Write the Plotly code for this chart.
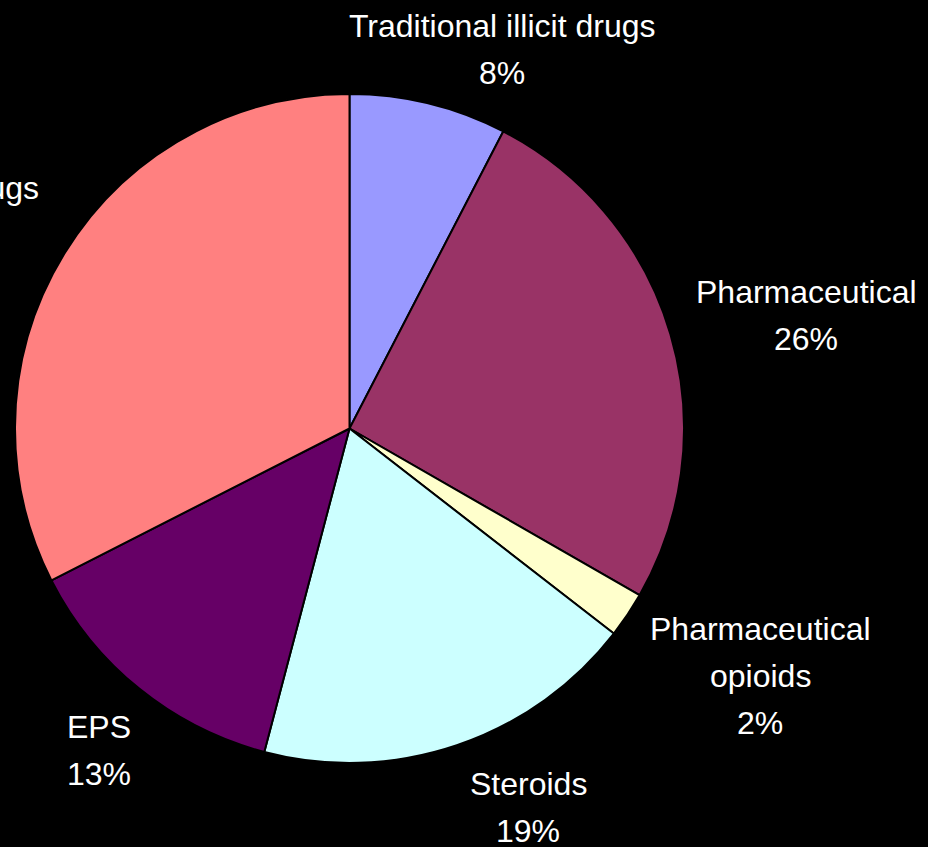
import plotly.graph_objects as go

labels = ["Traditional illicit drugs", "Pharmaceutical", "Pharmaceutical opioids",
          "Steroids", "EPS", "Other drugs"]
values = [7.6, 25.7, 2.2, 18.6, 13.4, 32.5]
colors = ["#9999FF", "#993366", "#FFFFCC", "#CCFFFF", "#660066", "#FF8080"]

# label line breaks as displayed
label_lines = [["Traditional illicit drugs"], ["Pharmaceutical"], ["Pharmaceutical", "opioids"],
               ["Steroids"], ["EPS"], ["Other drugs"]]

W, H = 928, 847
cx, cy, r = 349.5, 428.5, 334.5

fig = go.Figure(go.Pie(
    labels=labels, values=values, sort=False, direction="clockwise", rotation=0,
    marker=dict(colors=colors, line=dict(color="black", width=2)),
    textinfo="none", hoverinfo="label+percent", showlegend=False,
    domain=dict(x=[(cx - r) / W, (cx + r) / W], y=[(H - cy - r) / H, (H - cy + r) / H]),
))

# label placement (pixels): x center, y of first line, line step
label_pos = [(502, 26), (806, 292), (760, 629), (528, 784), (99, 727), (-46, 188)]
step = 47
total = sum(values)
font = dict(family="Liberation Sans, Arial, sans-serif", size=32, color="white")
for lines, v, (px, py) in zip(label_lines, values, label_pos):
    texts = lines + [f"{round(v / total * 100)}%"]
    for i, t in enumerate(texts):
        fig.add_annotation(x=px / W, y=1 - (py + i * step) / H, xref="paper", yref="paper",
                           text=t, showarrow=False, xanchor="center", yanchor="middle", font=font)

fig.update_layout(width=W, height=H, margin=dict(l=0, r=0, t=0, b=0),
                  paper_bgcolor="black", plot_bgcolor="black")
fig.write_html("out.html", config={"displayModeBar": False},
               post_script="document.body.style.margin='0';document.body.style.background='black';"
                           "document.body.style.overflow='hidden';")
